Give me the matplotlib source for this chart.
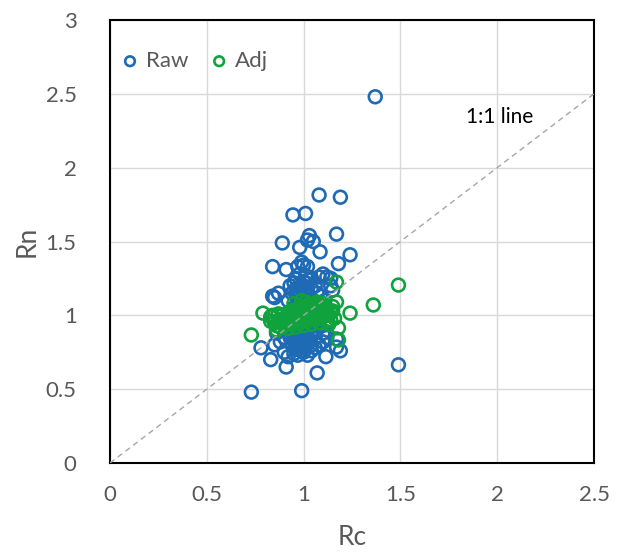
import matplotlib
matplotlib.use("Agg")
import matplotlib.pyplot as plt

raw_rc = [1.37, 1.08, 1.19, 0.945, 1.01, 1.03, 1.02, 1.05, 1.17, 0.89, 0.98, 1.085, 1.24, 0.84, 0.91,
          1.18, 0.99, 1.00, 1.02, 0.97, 1.10, 1.12, 1.14, 1.08, 1.14, 1.15, 0.84, 0.87, 0.85, 0.92,
          0.93, 0.95, 0.96, 0.98, 1.01, 1.03, 1.04, 1.06, 1.07, 1.09, 1.11, 0.94, 0.97, 1.00, 1.02,
          1.05, 0.99, 0.96, 1.01, 1.04, 0.98, 1.03, 0.95, 1.00, 1.06, 0.97, 1.02, 0.99, 1.05, 0.94,
          0.73, 0.99, 1.49, 1.07, 0.83, 0.91, 0.78, 1.115, 1.19, 1.17, 1.17, 0.85, 0.88, 0.90, 0.92,
          0.95, 0.97, 1.00, 1.02, 1.04, 1.06, 1.08, 1.10, 1.12, 0.93, 0.96, 0.98, 1.00, 1.02, 1.04,
          0.95, 0.97, 0.99, 1.01, 0.96, 0.94, 1.03, 1.06, 0.90, 0.86, 0.98, 1.00, 1.02, 0.97, 0.99,
          1.01, 1.03, 0.95, 0.93, 1.05, 1.08, 1.10, 0.92, 0.98, 1.00, 0.96, 1.04, 1.07, 0.89, 1.12,
          0.96, 0.98, 1.00, 1.02, 0.97, 0.99, 1.01, 1.03, 0.95, 0.97, 0.99, 1.01, 0.96, 0.98, 1.00,
          1.02, 1.04, 0.97, 0.99, 1.01, 0.98, 1.00, 1.02, 0.96, 0.98, 1.00, 1.02, 1.04, 0.97, 0.99]
raw_rn = [2.48, 1.815, 1.80, 1.68, 1.69, 1.54, 1.51, 1.50, 1.55, 1.49, 1.46, 1.43, 1.41, 1.33, 1.31,
          1.35, 1.36, 1.34, 1.33, 1.33, 1.28, 1.26, 1.25, 1.26, 1.20, 1.17, 1.13, 1.15, 1.12, 1.10,
          1.20, 1.22, 1.25, 1.28, 1.27, 1.24, 1.18, 1.20, 1.15, 1.13, 1.10, 1.15, 1.12, 1.20, 1.15,
          1.10, 1.10, 1.18, 1.22, 1.25, 1.05, 1.08, 1.05, 1.02, 1.04, 1.00, 0.98, 0.95, 0.96, 0.98,
          0.48, 0.49, 0.665, 0.61, 0.70, 0.65, 0.78, 0.72, 0.76, 0.785, 0.84, 0.80, 0.82, 0.75, 0.72,
          0.74, 0.73, 0.75, 0.73, 0.76, 0.78, 0.80, 0.82, 0.85, 0.85, 0.88, 0.82, 0.85, 0.90, 0.87,
          0.92, 0.80, 0.78, 0.80, 0.77, 0.80, 0.83, 0.85, 0.85, 0.88, 0.90, 0.93, 0.86, 0.84, 0.88,
          0.95, 0.92, 0.86, 0.90, 0.90, 0.93, 0.88, 0.95, 0.92, 0.97, 0.99, 1.00, 0.95, 1.00, 0.95,
          1.14, 1.16, 1.12, 1.13, 1.08, 1.06, 1.09, 1.11, 0.83, 0.86, 0.84, 0.87, 0.81, 0.79, 0.83,
          0.81, 0.80, 0.91, 0.89, 0.92, 1.19, 1.23, 1.18, 1.02, 1.01, 1.07, 1.05, 0.97, 0.77, 0.76]

adj_rc = [1.49, 1.36, 1.17, 0.73, 0.79, 1.24, 1.18, 1.18, 0.83, 0.83, 0.86, 1.17, 1.15, 1.14, 1.16,
          1.12, 0.85, 0.87, 0.88, 0.90, 0.91, 0.92, 0.93, 0.94, 0.95, 0.96, 0.97, 0.98, 0.99, 1.00,
          1.01, 1.02, 1.03, 1.04, 1.05, 1.06, 1.07, 1.08, 1.09, 1.10, 1.11, 1.12, 0.89, 0.92, 0.94,
          0.96, 0.98, 1.00, 1.02, 1.04, 1.06, 1.08, 1.10, 0.90, 0.93, 0.95, 0.97, 0.99, 1.01, 1.03,
          1.05, 1.07, 1.09, 1.11, 0.88, 0.91, 0.94, 0.97, 1.00, 1.03, 1.06, 1.09, 1.13, 1.14, 0.86,
          0.92, 0.96, 1.00, 1.04, 1.08, 1.12, 1.15, 1.13, 0.84, 0.87, 0.95, 1.01, 1.07, 1.10, 0.99,
          0.93, 0.95, 0.97, 0.99, 1.01, 1.03, 1.05, 1.07, 0.96, 0.98, 1.00, 1.02, 1.04, 1.06, 0.94,
          0.98, 1.02, 1.06, 0.91, 1.09]
adj_rn = [1.205, 1.07, 1.225, 0.867, 1.015, 1.015, 0.915, 0.833, 0.99, 0.96, 0.93, 1.09, 1.06, 1.03, 0.98,
          1.04, 0.95, 0.96, 0.97, 0.98, 0.96, 0.99, 1.00, 0.98, 1.01, 1.00, 1.02, 1.01, 1.03, 1.02,
          1.04, 1.03, 1.05, 1.04, 1.06, 1.05, 1.04, 1.06, 1.05, 1.04, 1.03, 1.02, 1.00, 1.02, 1.03,
          1.04, 1.05, 1.06, 1.07, 1.07, 1.08, 1.07, 1.06, 0.93, 0.95, 0.96, 0.97, 0.98, 0.99, 1.00,
          1.01, 1.00, 1.01, 1.00, 0.92, 0.94, 0.94, 0.95, 0.96, 0.97, 0.98, 0.98, 1.00, 0.97, 0.90,
          0.91, 0.92, 0.93, 0.94, 0.95, 0.96, 1.03, 0.94, 1.00, 1.01, 1.08, 1.09, 1.09, 1.08, 1.10,
          0.97, 0.99, 0.99, 1.00, 1.01, 1.02, 1.03, 1.02, 1.03, 1.04, 1.03, 1.05, 1.02, 1.01, 0.96,
          0.95, 0.98, 0.99, 0.98, 0.99]

x_ticks = [0, 0.5, 1, 1.5, 2, 2.5]
x_labels = ["0", "0.5", "1", "1.5", "2", "2.5"]
y_ticks = [0, 0.5, 1, 1.5, 2, 2.5, 3]
y_labels = ["0", "0.5", "1", "1.5", "2", "2.5", "3"]

plt.rcParams['font.family'] = ['Lato', 'DejaVu Sans']

fig = plt.figure(figsize=(6.22, 5.52), dpi=100)
ax = fig.add_axes([110/622, 1-463/552, 484/622, 443/552])

blue = '#1f6ab5'
green = '#10a23c'
ax.scatter(raw_rc, raw_rn, s=85, facecolors='none', edgecolors=blue, linewidths=1.9, zorder=3, label='Raw')
ax.scatter(adj_rc, adj_rn, s=85, facecolors='none', edgecolors=green, linewidths=1.9, zorder=4, label='Adj')
ax.plot([0, 2.5], [0, 2.5], color='#a6a6a6', linestyle=(0, (4, 3)), linewidth=1.0, zorder=5)

ax.set_xlim(0, 2.5)
ax.set_ylim(0, 3)
ax.set_xticks(x_ticks)
ax.set_xticklabels(x_labels)
ax.set_yticks(y_ticks)
ax.set_yticklabels(y_labels)
ax.tick_params(length=0, labelsize=16, labelcolor='#595959')
ax.tick_params(axis='x', pad=16)
ax.tick_params(axis='y', pad=24)
ax.grid(True, color='#d9d9d9', linewidth=1.0, zorder=0)
ax.set_axisbelow(True)
for sp in ax.spines.values():
    sp.set_color('black')
    sp.set_linewidth(1.5)

ax.set_xlabel('Rc', fontsize=19, color='#595959', labelpad=14)
ax.set_ylabel('Rn', fontsize=19, color='#595959', labelpad=4)

ax.text(1.84, 2.34, '1:1 line', fontsize=15, color='black', va='center', ha='left')

leg = ax.legend(loc='upper left', bbox_to_anchor=(0.0, 0.955), ncol=2, frameon=False,
                fontsize=16, handletextpad=0.3, handlelength=0.8, columnspacing=1.0,
                markerscale=0.75, borderaxespad=0.2, borderpad=0.3)
for t in leg.get_texts():
    t.set_color('#595959')

fig.savefig('out.png', dpi=100)
